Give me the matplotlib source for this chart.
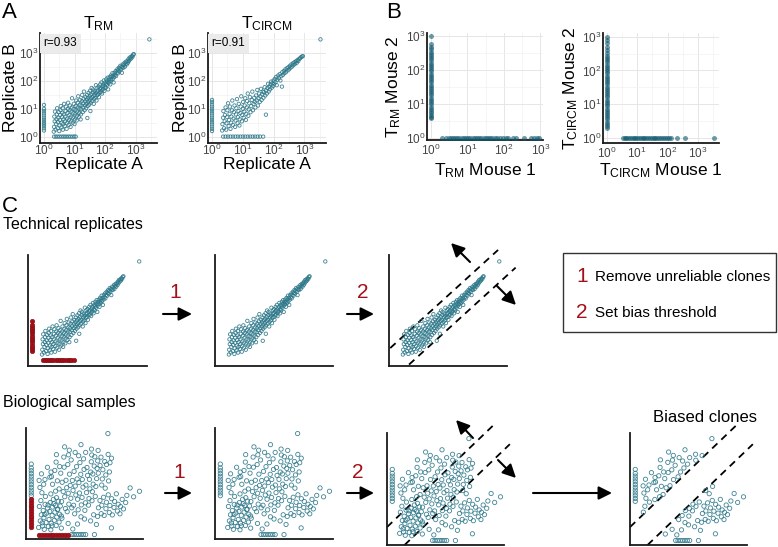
import numpy as np
import matplotlib
matplotlib.use('Agg')
import matplotlib.pyplot as plt
from matplotlib.patches import Rectangle
from matplotlib.ticker import FixedLocator, NullLocator, NullFormatter

plt.rcParams['font.family'] = ['Liberation Sans', 'DejaVu Sans']
plt.rcParams['mathtext.default'] = 'regular'

W, H = 778, 547
TEAL = '#2c7789'
TEAL_FILL = '#0f5a70'
RED = '#a3101a'

# ---------------- data ----------------
# panel A, T_RM technical replicates (log10 counts: replicate A, replicate B)
rm_cloud = [
    (0.32, 0.18), (0.33, 0.35), (0.35, 0.55), (0.34, 0.72), (0.36, 0.90), (0.38, 0.25), (0.40, 0.45),
    (0.41, 0.62), (0.42, 0.80), (0.43, 1.02), (0.45, 0.30), (0.46, 0.52), (0.47, 0.68), (0.48, 0.88),
    (0.50, 0.20), (0.51, 0.40), (0.52, 0.60), (0.53, 0.78), (0.54, 0.95), (0.55, 1.10), (0.57, 0.33),
    (0.58, 0.50), (0.59, 0.70), (0.60, 0.86), (0.61, 1.02), (0.62, 0.25), (0.63, 0.45), (0.64, 0.62),
    (0.65, 0.80), (0.66, 1.18), (0.68, 0.38), (0.69, 0.55), (0.70, 0.72), (0.71, 0.92), (0.72, 1.08),
    (0.74, 0.28), (0.75, 0.48), (0.76, 0.65), (0.77, 0.85), (0.78, 1.00), (0.79, 1.22), (0.81, 0.42),
    (0.82, 0.60), (0.83, 0.78), (0.84, 0.95), (0.85, 1.12), (0.87, 0.35), (0.88, 0.55), (0.89, 0.72),
    (0.90, 0.90), (0.91, 1.05), (0.92, 1.38), (0.94, 0.50), (0.95, 0.68), (0.96, 0.84), (0.97, 1.00),
    (0.98, 1.18), (1.00, 0.45), (1.01, 0.62), (1.02, 0.80), (1.03, 0.95), (1.04, 1.10), (1.05, 1.30),
    (1.07, 0.58), (1.08, 0.75), (1.09, 0.90), (1.10, 1.05), (1.11, 1.22), (1.12, 1.45), (1.14, 0.70),
    (1.15, 0.85), (1.16, 1.00), (1.17, 1.15), (1.18, 1.32), (1.20, 0.62), (1.21, 0.80), (1.22, 0.98),
    (1.23, 1.12), (1.24, 1.28), (1.25, 1.50), (1.27, 0.88), (1.28, 1.05), (1.29, 1.20), (1.30, 1.36),
    (1.31, 1.62), (1.33, 0.95), (1.34, 1.12), (1.35, 1.27), (1.36, 1.42), (1.38, 1.02), (1.39, 1.18),
    (1.40, 1.33), (1.41, 1.50), (1.42, 0.67), (1.43, 1.10), (1.44, 1.25), (1.45, 1.40), (1.46, 1.58),
    (1.48, 1.15), (1.49, 1.30), (1.50, 1.45), (1.51, 1.65), (1.52, 0.92), (1.53, 1.22), (1.54, 1.38),
    (1.55, 1.52), (1.56, 1.75), (1.58, 1.28), (1.59, 1.42), (1.60, 1.58), (1.61, 1.70), (1.63, 1.18),
    (1.64, 1.35), (1.65, 1.50), (1.66, 1.64), (1.68, 1.40), (1.69, 1.56), (1.70, 1.85), (1.72, 1.30),
    (1.73, 1.48), (1.74, 1.62), (1.75, 1.76), (1.77, 1.52), (1.78, 1.66), (1.79, 1.80), (1.80, 1.42),
    (1.82, 1.58), (1.83, 1.72), (1.84, 1.88), (1.86, 1.60), (1.87, 1.75), (1.88, 1.95), (1.90, 1.55),
    (1.91, 1.68), (1.92, 1.82), (1.94, 1.72), (1.95, 1.88), (1.96, 2.02), (1.98, 1.65), (1.99, 1.80),
    (2.00, 1.95), (2.02, 1.76), (2.03, 1.90), (2.04, 2.06), (2.06, 1.85), (2.07, 1.98), (2.08, 2.12),
    (2.10, 1.70), (2.11, 1.92), (2.12, 2.05), (2.14, 1.98), (2.15, 2.14), (2.17, 1.88), (2.18, 2.06),
    (2.19, 2.20), (2.21, 2.02), (2.22, 2.15), (2.24, 2.28), (2.25, 2.08), (2.27, 2.20), (2.28, 1.95),
    (2.30, 2.14), (2.31, 2.30), (2.33, 2.22), (2.35, 2.36), (2.36, 2.18), (2.38, 2.30), (2.40, 2.42),
    (2.42, 2.28), (2.43, 2.38), (2.45, 2.48), (2.47, 2.35), (2.48, 2.45), (2.50, 2.55), (2.52, 2.42),
    (2.54, 2.52), (2.55, 2.30), (2.57, 2.50), (2.58, 2.60), (2.60, 2.48), (2.62, 2.58), (2.64, 2.66),
    (2.65, 2.52), (2.67, 2.62), (2.69, 2.70), (2.71, 2.60), (2.73, 2.72), (2.75, 2.66), (2.76, 2.78),
    (2.78, 2.72), (2.80, 2.84), (2.82, 2.78), (2.84, 2.86), (2.86, 2.82), (2.88, 2.90), (2.90, 2.88),
    (2.92, 2.95), (2.94, 2.97), (3.45, 3.50),
]
rm_col_y = [0.22, 0.30, 0.38, 0.45, 0.52, 0.60, 0.68, 0.76, 0.84, 0.92, 1.00, 1.14]
rm_row_x = [0.33, 0.39, 0.45, 0.51, 0.57, 0.63, 0.69, 0.75, 0.81, 0.87, 0.93, 0.99, 1.04]

# panel A, T_CIRCM technical replicates
circm_cloud = [
    (0.33, 0.22), (0.34, 0.45), (0.36, 0.68), (0.37, 0.92), (0.39, 0.30), (0.41, 0.55), (0.42, 0.78),
    (0.44, 1.05), (0.46, 0.25), (0.47, 0.48), (0.49, 0.70), (0.50, 0.95), (0.52, 1.20), (0.54, 0.38),
    (0.55, 0.60), (0.57, 0.82), (0.58, 1.08), (0.60, 0.28), (0.62, 0.50), (0.63, 0.72), (0.65, 0.95),
    (0.66, 1.30), (0.68, 0.42), (0.70, 0.65), (0.71, 0.88), (0.73, 1.12), (0.75, 0.35), (0.76, 0.58),
    (0.78, 0.80), (0.79, 1.02), (0.81, 1.35), (0.83, 0.48), (0.84, 0.70), (0.86, 0.92), (0.87, 1.18),
    (0.89, 0.40), (0.90, 0.62), (0.92, 0.85), (0.93, 1.08), (0.95, 1.45), (0.97, 0.55), (0.98, 0.78),
    (1.00, 1.00), (1.01, 1.25), (1.03, 0.68), (1.05, 0.90), (1.06, 1.12), (1.08, 1.38), (1.10, 0.60),
    (1.11, 0.82), (1.13, 1.05), (1.14, 1.28), (1.16, 1.55), (1.18, 0.75), (1.19, 0.98), (1.21, 1.20),
    (1.23, 1.42), (1.25, 0.88), (1.27, 1.10), (1.29, 1.32), (1.31, 1.62), (1.33, 0.95), (1.35, 1.18),
    (1.37, 1.40), (1.39, 1.25), (1.41, 1.05), (1.43, 1.48), (1.45, 1.30), (1.47, 1.68), (1.49, 1.12),
    (1.51, 1.38), (1.53, 1.55), (1.55, 1.25), (1.57, 1.45), (1.59, 1.72), (1.61, 1.32), (1.63, 1.52),
    (1.65, 1.62), (1.67, 1.40), (1.69, 1.60), (1.71, 1.78), (1.73, 1.48), (1.75, 0.79), (1.76, 1.66),
    (1.78, 1.55), (1.80, 1.75), (1.82, 1.90), (1.84, 1.62), (1.86, 1.80), (1.88, 1.70), (1.90, 1.88),
    (1.92, 1.98), (1.94, 1.76), (1.96, 1.92), (1.98, 1.82), (2.00, 2.02), (2.02, 1.90), (2.04, 2.08),
    (2.06, 1.96), (2.08, 2.15), (2.10, 1.85), (2.12, 2.05), (2.15, 2.20), (2.17, 2.10), (2.20, 2.25),
    (2.22, 2.02), (2.25, 2.18), (2.27, 1.80), (2.28, 2.32), (2.30, 2.22), (2.33, 2.36), (2.35, 2.28),
    (2.38, 2.42), (2.40, 2.32), (2.43, 2.46), (2.45, 2.38), (2.48, 2.50), (2.50, 2.42), (2.53, 2.55),
    (2.55, 2.48), (2.58, 2.60), (2.60, 2.52), (2.63, 2.64), (2.65, 2.58), (2.68, 2.68), (2.70, 2.62),
    (2.73, 2.72), (2.75, 2.66), (2.78, 2.76), (2.80, 2.72), (2.83, 2.80), (2.86, 2.82), (2.89, 2.86),
    (2.92, 2.88), (2.95, 2.90), (3.52, 3.50),
]
circm_col_y = [0.20, 0.28, 0.36, 0.44, 0.52, 0.60, 0.68, 0.76, 0.84, 0.92, 1.00, 1.08, 1.16, 1.25, 1.32]
circm_row_x = [0.36, 0.44, 0.52, 0.60, 0.68, 0.76, 0.84, 0.92, 1.00, 1.08, 1.16, 1.24, 1.32, 1.40,
               1.48, 1.56, 1.66]

a_titles = [r'T$_{RM}$', r'T$_{CIRCM}$']
a_r_labels = ['r=0.93', 'r=0.91']

# panel B, clones found in only one mouse (log10 counts)
b_rm_col_y = [0.57, 0.62, 0.68, 0.73, 0.80, 0.86, 0.92, 0.99, 1.05, 1.12, 1.18, 1.25, 1.31, 1.38,
              1.44, 1.51, 1.57, 1.64, 1.70, 1.77, 1.83, 1.90, 1.96, 2.03, 2.09, 2.16, 2.22, 2.29,
              2.35, 2.42, 2.48, 2.55, 2.62, 2.70, 2.78, 3.00]
b_rm_row_x = [0.30, 0.42, 0.48, 0.54, 0.60, 0.66, 0.72, 0.78, 0.84, 0.90, 0.96, 1.02, 1.08, 1.14,
              1.20, 1.26, 1.32, 1.38, 1.44, 1.50, 1.56, 1.62, 1.68, 1.75, 1.82, 1.90, 1.97, 2.05,
              2.10, 2.25, 2.32, 2.55, 2.75, 2.82, 2.90, 2.95]
b_circm_col_y = [0.30, 0.36, 0.42, 0.48, 0.55, 0.61, 0.68, 0.74, 0.81, 0.87, 0.94, 1.00, 1.07, 1.13,
                 1.20, 1.26, 1.33, 1.39, 1.46, 1.52, 1.59, 1.65, 1.72, 1.78, 1.85, 1.91, 1.98, 2.04,
                 2.11, 2.17, 2.24, 2.30, 2.37, 2.44, 2.52, 2.60, 2.70, 2.80, 2.90, 3.00]
b_circm_row_x = [0.52, 0.58, 0.64, 0.70, 0.76, 0.82, 0.88, 0.94, 1.00, 1.06, 1.12, 1.18, 1.24, 1.30,
                 1.36, 1.42, 1.48, 1.54, 1.60, 1.66, 1.72, 1.78, 1.85, 1.92, 1.99, 2.06, 2.13,
                 2.30, 2.57, 3.54]
b_xlabels = [r'T$_{RM}$ Mouse 1', r'T$_{CIRCM}$ Mouse 1']
b_ylabels = [r'T$_{RM}$ Mouse 2', r'T$_{CIRCM}$ Mouse 2']

# panel C, schematic: unreliable clones of the technical replicates (log10)
tech_red_col_y = [0.29, 0.37, 0.45, 0.53, 0.61, 0.69, 0.77, 0.85, 0.93, 1.01, 1.09, 1.17, 1.25, 1.38]
tech_red_row_x = [0.34, 0.41, 0.48, 0.55, 0.62, 0.69, 0.76, 0.83, 0.90, 0.97, 1.04, 1.11, 1.18,
                  1.25, 1.35]
tech_bias = (0.5, -0.7)   # upper / lower threshold, log10 offset from the diagonal

# panel C, schematic: biological samples (arbitrary units)
bio_cloud = [
    (1.08, 1.04), (1.22, 1.63), (1.31, 2.18), (1.14, 2.93), (1.27, 3.46), (1.42, 1.17), (1.53, 1.92),
    (1.47, 2.57), (1.63, 3.12), (1.56, 0.87), (1.72, 1.48), (1.77, 2.34), (1.84, 2.79), (1.66, 3.83),
    (1.91, 1.13), (1.97, 1.76), (2.03, 2.47), (2.07, 3.28), (2.12, 0.83), (2.16, 1.42), (2.23, 2.13),
    (2.27, 2.88), (2.34, 3.57), (2.42, 1.68), (2.47, 2.42), (2.52, 3.03), (2.58, 1.21), (2.63, 1.97),
    (2.72, 2.68), (2.76, 3.41), (2.83, 1.52), (2.87, 2.23), (2.93, 2.97), (3.02, 0.98), (3.07, 1.87),
    (1.36, 4.17), (1.19, 4.64), (1.12, 5.28), (1.32, 5.87), (1.51, 4.93), (1.38, 1.45), (1.61, 2.21),
    (1.88, 3.06), (2.21, 1.18),
    (2.12, 4.06), (2.27, 4.93), (2.18, 5.62), (2.46, 6.18), (2.53, 4.31), (2.68, 5.24), (2.61, 3.72),
    (2.83, 4.51), (2.97, 5.93), (3.04, 3.38), (3.18, 4.27), (3.09, 5.11), (3.26, 6.47), (3.37, 2.74),
    (3.31, 3.81), (3.48, 4.62), (3.42, 5.29), (3.57, 6.71), (3.52, 2.46), (3.66, 3.14), (3.61, 4.12),
    (3.78, 4.83), (3.72, 5.84), (3.86, 7.12), (3.91, 2.81), (3.83, 3.67), (4.02, 4.38), (3.96, 5.27),
    (4.11, 6.09), (4.16, 2.27), (4.07, 3.04), (4.26, 3.96), (4.21, 4.77), (4.37, 5.41), (4.32, 6.52),
    (4.46, 2.63), (4.41, 3.58), (4.57, 4.14), (4.52, 5.08), (4.68, 5.83), (4.61, 6.88), (4.73, 3.07),
    (4.79, 3.74), (4.87, 4.67), (4.81, 5.36), (4.96, 6.27), (4.92, 7.22), (5.03, 2.58), (5.08, 3.26),
    (5.17, 4.18), (5.12, 4.86), (5.26, 5.73), (5.21, 6.44), (5.34, 3.05), (5.38, 3.64), (5.46, 4.52),
    (5.42, 5.37), (5.53, 6.03), (5.58, 6.96), (5.64, 3.45), (5.67, 4.26), (5.74, 4.94), (5.71, 5.86),
    (5.83, 6.57), (5.92, 3.84), (5.97, 4.73), (6.04, 5.44), (6.08, 6.36), (6.13, 7.04), (2.38, 3.17),
    (2.69, 2.64), (3.02, 2.07), (3.23, 7.38), (2.04, 5.57), (1.83, 6.46), (2.57, 6.93), (3.63, 7.58),
    (1.62, 5.36), (2.14, 6.03), (2.88, 6.52),
    (6.18, 5.93), (6.33, 6.62), (6.41, 7.37), (6.52, 5.41), (6.57, 6.24), (6.73, 6.98), (6.82, 5.77),
    (6.88, 6.71), (7.02, 7.62), (7.13, 6.04), (7.18, 6.87), (7.31, 7.28), (6.47, 4.86), (6.77, 4.58),
    (7.06, 5.23), (5.62, 7.57), (5.88, 7.41), (6.16, 7.98), (7.0, 9.5), (4.7, 8.5), (3.7, 8.0),
    (5.6, 8.1), (4.2, 7.8), (3.3, 8.3), (2.6, 7.6), (4.5, 7.5), (5.1, 7.8),
    (6.12, 2.03), (6.19, 2.81), (6.32, 3.47), (6.43, 2.28), (6.48, 3.04), (6.63, 3.76), (6.68, 2.12),
    (6.83, 2.73), (6.87, 3.31), (7.03, 3.98), (7.12, 2.38), (7.17, 3.02), (7.32, 3.63), (7.38, 2.17),
    (7.52, 2.84), (7.57, 3.38), (7.72, 4.07), (7.81, 2.52), (7.88, 3.13), (8.03, 2.27), (8.08, 2.92),
    (8.22, 3.57), (8.33, 2.71), (8.52, 3.28), (8.62, 3.93), (9.7, 4.3), (5.78, 2.18), (5.52, 1.63),
    (6.02, 1.31), (7.3, 1.0), (4.4, 1.35), (5.0, 1.8), (4.7, 2.0), (3.6, 1.4), (4.0, 0.9), (8.9, 4.6),
    (9.2, 3.8),
]
bio_col_y = [1.1, 1.35, 1.6, 1.85, 2.1, 2.35, 2.6, 2.85, 3.1, 3.35, 3.6, 3.9, 4.15, 4.4, 4.65,
             4.9, 5.15, 5.4, 5.65, 5.9, 6.15, 6.4, 6.75]
bio_row_x = [1.1, 1.35, 1.6, 1.85, 2.1, 2.35, 2.6, 2.85, 3.1, 3.35, 3.6, 3.9, 4.1, 4.3, 4.5, 4.7,
             4.9, 5.1, 5.85]
bio_col_x = 0.45
bio_row_y = 0.4
bio_reliable_cut = 3.8
bio_bias = (1.6, -1.5)

legend_items = [('1', 'Remove unreliable clones'), ('2', 'Set bias threshold')]

# ---------------- figure ----------------
fig = plt.figure(figsize=(W / 100, H / 100), dpi=100)


def px_axes(l, t, r, b):
    return fig.add_axes([l / W, 1 - b / H, (r - l) / W, (b - t) / H])


def xy(pairs):
    a = np.array(pairs)
    return a[:, 0], a[:, 1]


def log_axes(ax, xl, yl, labels=True):
    ax.set_xscale('log')
    ax.set_yscale('log')
    ax.set_xlim(10 ** xl[0], 10 ** xl[1])
    ax.set_ylim(10 ** yl[0], 10 ** yl[1])
    for s in ['top', 'right']:
        ax.spines[s].set_visible(False)
    for s in ['left', 'bottom']:
        ax.spines[s].set_linewidth(1.3)
        ax.spines[s].set_color('#1a1a1a')
    if labels:
        for axis in [ax.xaxis, ax.yaxis]:
            axis.set_major_locator(FixedLocator([1, 10, 100, 1000]))
            axis.set_minor_locator(FixedLocator([10 ** 0.5, 10 ** 1.5, 10 ** 2.5, 10 ** 3.5]))
            axis.set_minor_formatter(NullFormatter())
        ax.grid(which='major', color='#e6e6e6', lw=0.7)
        ax.grid(which='minor', color='#f1f1f1', lw=0.5)
        ax.set_axisbelow(True)
        ax.tick_params(which='both', length=0, labelsize=8.5, labelcolor='#444444')
        ax.tick_params(axis='x', pad=0)
        ax.tick_params(axis='y', pad=1)
    else:
        for axis in [ax.xaxis, ax.yaxis]:
            axis.set_major_locator(NullLocator())
            axis.set_minor_locator(NullLocator())


def plain_axes(ax):
    ax.set_xlim(0, 10)
    ax.set_ylim(0, 10)
    ax.set_xticks([])
    ax.set_yticks([])
    for s in ['top', 'right']:
        ax.spines[s].set_visible(False)
    for s in ['left', 'bottom']:
        ax.spines[s].set_linewidth(1.3)
        ax.spines[s].set_color('#1a1a1a')


def open_pts(ax, x, y, s=6):
    ax.scatter(x, y, s=s, facecolors='none', edgecolors=TEAL, linewidths=0.6, alpha=0.9,
               clip_on=False, zorder=3)


A_XL, A_YL = (-0.13, 3.7), (-0.23, 3.73)

# panel A
a_boxes = [(40, 33, 157, 143), (208, 33, 326, 143)]
a_ylab_x = [-0.19, -0.17]
a_data = [(rm_cloud, rm_col_y, rm_row_x), (circm_cloud, circm_col_y, circm_row_x)]
for k, box in enumerate(a_boxes):
    ax = px_axes(*box)
    log_axes(ax, A_XL, A_YL)
    cloud, col_y, row_x = a_data[k]
    cx, cy = xy(cloud)
    open_pts(ax, 10 ** cx, 10 ** cy)
    open_pts(ax, np.ones(len(col_y)), 10 ** np.array(col_y))
    open_pts(ax, 10 ** np.array(row_x), np.ones(len(row_x)))
    ax.set_title(a_titles[k], fontsize=12.5, pad=2)
    ax.set_xlabel('Replicate A', fontsize=12.5)
    ax.set_ylabel('Replicate B', fontsize=12.5)
    ax.xaxis.set_label_coords(0.5, -0.13)
    ax.yaxis.set_label_coords(a_ylab_x[k], 0.5)
    ax.text(0.03, 0.96, a_r_labels[k], transform=ax.transAxes, va='top', ha='left', fontsize=8.5,
            bbox=dict(boxstyle='square,pad=0.3', fc='#ebebeb', ec='none'), zorder=5)

# panel B
b_boxes = [(427, 33, 543, 140), (603, 33, 719, 143)]
b_lims = [((-0.11, 3.07), (-0.07, 3.1)), ((-0.13, 3.7), (-0.15, 3.11))]
b_xlab_y = [-0.2, -0.17]
b_ylab_x = [-0.205, -0.2]
b_data = [(b_rm_col_y, b_rm_row_x), (b_circm_col_y, b_circm_row_x)]
for k, box in enumerate(b_boxes):
    ax = px_axes(*box)
    log_axes(ax, *b_lims[k])
    ax.tick_params(axis='x', pad=2)
    col_y, row_x = b_data[k]
    ax.scatter(np.ones(len(col_y)), 10 ** np.array(col_y), s=13, color=TEAL_FILL, alpha=0.6,
               linewidths=0, clip_on=False, zorder=3)
    ax.scatter(10 ** np.array(row_x), np.ones(len(row_x)), s=13, color=TEAL_FILL, alpha=0.6,
               linewidths=0, clip_on=False, zorder=3)
    ax.set_xlabel(b_xlabels[k], fontsize=12.5)
    ax.set_ylabel(b_ylabels[k], fontsize=12.5)
    ax.xaxis.set_label_coords(0.5, b_xlab_y[k])
    ax.yaxis.set_label_coords(b_ylab_x[k], 0.5)

# panel C, technical replicates
tech_boxes = [(28, 255, 147, 366), (215, 255, 333, 366), (389, 255, 507, 366)]
tx, ty = xy(rm_cloud)
for k, box in enumerate(tech_boxes):
    ax = px_axes(*box)
    log_axes(ax, A_XL, A_YL, labels=False)
    open_pts(ax, 10 ** tx, 10 ** ty)
    if k == 0:
        ax.scatter(np.ones(len(tech_red_col_y)), 10 ** np.array(tech_red_col_y), s=11, color=RED,
                   linewidths=0.3, edgecolors='#7a0a10', clip_on=False, zorder=4)
        ax.scatter(10 ** np.array(tech_red_row_x), np.ones(len(tech_red_row_x)), s=11, color=RED,
                   linewidths=0.3, edgecolors='#7a0a10', clip_on=False, zorder=4)
    if k == 2:
        up = np.array([-0.09, 3.41])
        lo = np.array([0.52, 3.98])
        ax.plot(10 ** up, 10 ** (up + tech_bias[0]), ls=(0, (4, 3)), color='k', lw=1.3, clip_on=False)
        ax.plot(10 ** lo, 10 ** (lo + tech_bias[1]), ls=(0, (4, 3)), color='k', lw=1.3, clip_on=False)

# panel C, biological samples
bio_boxes = [(26, 428, 143, 539), (215, 428, 333, 539), (387, 433, 504, 545), (630, 433, 747, 545)]
bx, by = xy(bio_cloud)
col_y = np.array(bio_col_y)
row_x = np.array(bio_row_x)
biased = ((by - bx) > bio_bias[0]) | ((by - bx) < bio_bias[1])
for k, box in enumerate(bio_boxes):
    ax = px_axes(*box)
    plain_axes(ax)
    if k == 3:
        open_pts(ax, bx[biased], by[biased], s=9.5)
    else:
        open_pts(ax, bx, by, s=9.5)
    good_c = col_y >= bio_reliable_cut
    good_r = row_x >= bio_reliable_cut
    open_pts(ax, np.full(good_c.sum(), bio_col_x), col_y[good_c], s=9.5)
    open_pts(ax, row_x[good_r], np.full(good_r.sum(), bio_row_y), s=9.5)
    if k == 0:
        ax.scatter(np.full((~good_c).sum(), bio_col_x), col_y[~good_c], s=12, color=RED,
                   linewidths=0.3, edgecolors='#7a0a10', clip_on=False, zorder=4)
        ax.scatter(row_x[~good_r], np.full((~good_r).sum(), bio_row_y), s=12, color=RED,
                   linewidths=0.3, edgecolors='#7a0a10', clip_on=False, zorder=4)
    if k >= 2:
        up = np.array([0.0, 9.1])
        lo = np.array([1.5, 10.5])
        ax.plot(up, up + bio_bias[0], ls=(0, (4, 3)), color='k', lw=1.3, clip_on=False)
        ax.plot(lo, lo + bio_bias[1], ls=(0, (4, 3)), color='k', lw=1.3, clip_on=False)

# overlay for labels, arrows and the legend box (pixel coordinates)
ov = fig.add_axes([0, 0, 1, 1], zorder=10)
ov.set_xlim(0, W)
ov.set_ylim(H, 0)
ov.axis('off')
ov.patch.set_alpha(0)


def arrow(p0, p1, ms=20):
    ov.annotate('', xy=p1, xytext=p0,
                arrowprops=dict(arrowstyle='-|>', mutation_scale=ms, lw=1.5, color='k',
                                shrinkA=0, shrinkB=0))


for lab, x, y in [('A', 2, 2), ('B', 386, 2), ('C', 2, 196)]:
    ov.text(x, y, lab, fontsize=16, va='top', ha='left')
ov.text(3, 225, 'Technical replicates', fontsize=11.5, va='center', ha='left')
ov.text(3, 402, 'Biological samples', fontsize=11.5, va='center', ha='left')
ov.text(705, 418, 'Biased clones', fontsize=12, va='center', ha='center')

for num, x, y in [('1', 175, 292), ('2', 363, 292), ('1', 179, 473), ('2', 358, 473)]:
    ov.text(x, y, num, fontsize=15, color=RED, va='center', ha='center')

arrow((163, 314), (192, 314))
arrow((347, 314), (374, 314))
arrow((165, 493), (192, 493))
arrow((347, 493), (374, 493))
arrow((533, 493), (612, 493))
arrow((470, 262), (451, 243))
arrow((497, 286), (516, 305))
arrow((473, 438), (456, 420))
arrow((498, 460), (516, 478))

ov.add_patch(Rectangle((563, 253), 213, 79, fill=False, ec='#333333', lw=1.0))
for i, (num, txt) in enumerate(legend_items):
    yy = 277 + i * 36
    ov.text(582, yy, num, fontsize=15, color=RED, va='center', ha='center')
    ov.text(595, yy, txt, fontsize=11, va='center', ha='left')

fig.savefig('out.png', dpi=100)
